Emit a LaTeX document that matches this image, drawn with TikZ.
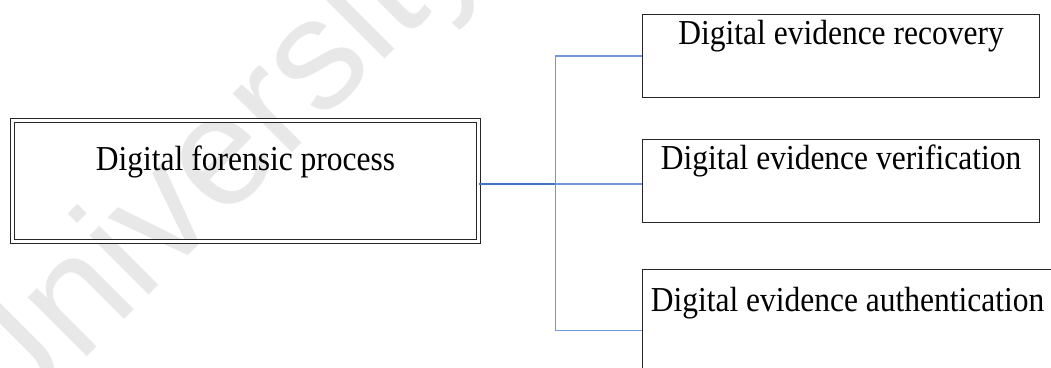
\documentclass[tikz,border=0pt]{standalone}
\usepackage{fontspec}
\setmainfont{Liberation Serif}[FakeStretch=0.9]
\newfontfamily\markfont{Liberation Sans}
\definecolor{linkblue}{RGB}{112,152,218}
\definecolor{trunkblue}{RGB}{70,114,194}
\definecolor{markgray}{RGB}{232,232,232}
\begin{document}
\begin{tikzpicture}[x=1pt,y=-1pt,
  label font/.style={font=\fontsize{35}{40}\selectfont},
  mainbox/.style={draw=black!85, line width=0.8pt, double=white,
    double distance=3pt, inner sep=0pt, align=flush center, label font},
  stepbox/.style={draw=black!85, line width=1.1pt, inner sep=0pt,
    align=flush center, label font},
  conn/.style={draw=linkblue, line width=1.2pt},
  trunk/.style={draw=trunkblue, line width=1.6pt}]
\useasboundingbox (0,0) rectangle (1051,367);
\clip (0,0) rectangle (1051,367);

% faint background mark
\node[markgray, font=\markfont\fontsize{158}{158}\selectfont,
  anchor=base west, inner sep=0pt, rotate=45] (mark) at (-1.5,445.7) {University};

% main process box
\node[mainbox, anchor=north west, text width=465.7pt,
  text height=50pt, text depth=71pt] (main) at (12.3,120)
  {Digital forensic process};

% sub-process boxes
\node[stepbox, anchor=north west, text width=397pt,
  text height=30pt, text depth=53pt] (b1) at (642,14)
  {Digital evidence recovery};
\node[stepbox, anchor=north west, text width=397pt,
  text height=30pt, text depth=53pt] (b2) at (642,139)
  {Digital evidence verification};
\node[stepbox, anchor=north west, text width=410pt,
  text height=42pt, text depth=80pt] (b3) at (642,269)
  {Digital evidence authentication};

% connectors
\coordinate (j) at (555.5,184);
\coordinate (k3) at (555.5,330.5);
\draw[trunk] (j -| main.east) -- (j);
\draw[conn] (j) |- (b1.west);
\draw[conn] (j) -- (j -| b2.west);
\draw[conn] (j) -- (k3) -- (k3 -| b3.west);
\end{tikzpicture}
\end{document}
